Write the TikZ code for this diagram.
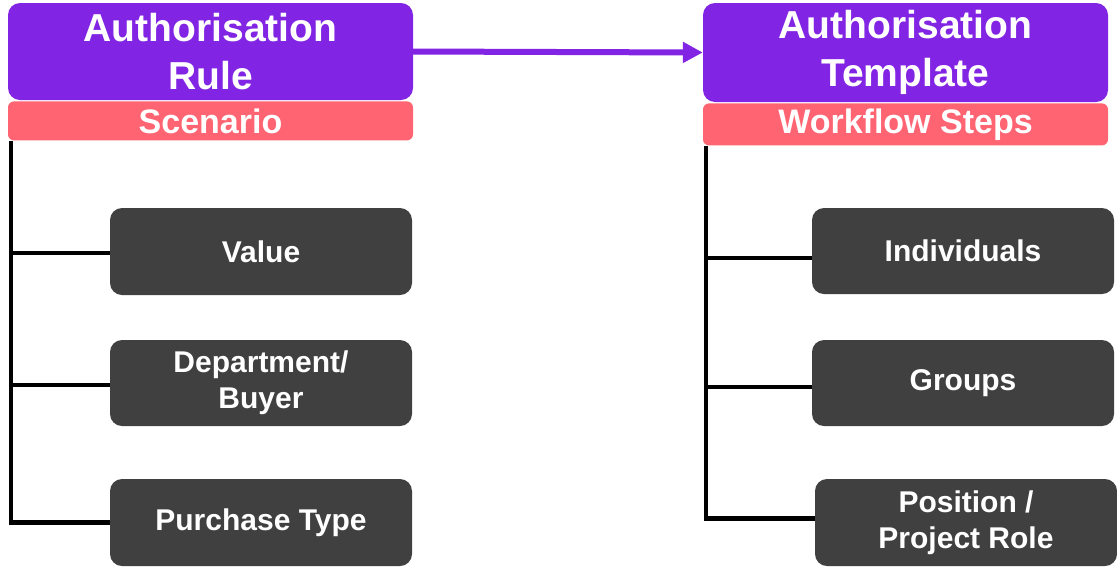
\documentclass[tikz,border=0pt]{standalone}
\usepackage{fontspec}
\setmainfont{Liberation Sans}
\usepackage{xcolor}
\usepackage{tikz}
\usetikzlibrary{positioning,arrows.meta}
\definecolor{AuthPurple}{HTML}{8224E3}
\definecolor{AuthPink}{HTML}{FF6473}
\definecolor{AuthGray}{HTML}{404040}
\tikzset{authhead/.style={fill=AuthPurple, rounded corners=12pt, text=white, align=center, inner sep=0pt, minimum width=405pt, font=\fontsize{39}{48}\selectfont\bfseries}, authbar/.style={fill=AuthPink, rounded corners=6pt, text=white, align=center, inner sep=0pt, minimum width=405pt, font=\fontsize{34}{40}\selectfont\bfseries}, authitem/.style={fill=AuthGray, rounded corners=12pt, text=white, align=center, inner sep=0pt, minimum width=302pt, minimum height=86pt, font=\fontsize{30}{36}\selectfont\bfseries}, authtree/.style={line width=4.5pt, draw=black}, autharrow/.style={-{Triangle[length=20pt,width=20pt]}, line width=6pt, draw=AuthPurple}}

\begin{document}
\begin{tikzpicture}[x=1pt, y=-1pt]
\useasboundingbox (0,0) rectangle (1117,566);
\node[authhead, minimum height=97pt] (rule) at (210.5,51.5) {Authorisation\\Rule};
\node[authbar, minimum height=39pt, below=1pt of rule] (scenario) {Scenario};
\node[authhead, minimum height=99pt] (template) at (905.5,52.5) {Authorisation\\Template};
\node[authbar, minimum height=42pt, below=1pt of template] (steps) {Workflow Steps};
\node[authitem, minimum height=87pt] (value) at (261,251.5) {Value};
\node[authitem] (dept) at (261,383) {Department/\\Buyer};
\node[authitem, minimum height=87pt] (ptype) at (261,522.5) {Purchase Type};
\node[authitem] (indiv) at (963,251) {Individuals};
\node[authitem] (groups) at (963,383) {Groups};
\node[authitem, minimum height=87pt] (position) at (966,522.5) {Position /\\Project Role};
\coordinate (ltrunk) at ([xshift=3pt]scenario.south west);
\coordinate (rtrunk) at ([xshift=3pt]steps.south west);
\draw[autharrow] (rule.east) -- (template.west);
\draw[authtree] (ltrunk) |- (ptype.west);
\draw[authtree] (ltrunk |- value.west) ++(0,1.5) -- ([yshift=-1.5pt]value.west);
\draw[authtree] (ltrunk |- dept.west) ++(0,2) -- ([yshift=-2pt]dept.west);
\draw[authtree] (rtrunk) |- ([yshift=4pt]position.west);
\draw[authtree] (rtrunk |- indiv.west) ++(0,7) -- ([yshift=-7pt]indiv.west);
\draw[authtree] (rtrunk |- groups.west) ++(0,4) -- ([yshift=-4pt]groups.west);
\end{tikzpicture}
\end{document}
